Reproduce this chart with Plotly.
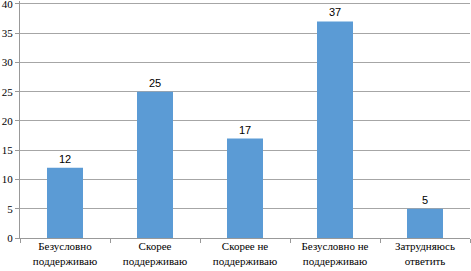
import plotly.graph_objects as go

categories = ["Безусловно<br>поддерживаю", "Скорее<br>поддерживаю", "Скорее не<br>поддерживаю",
              "Безусловно не<br>поддерживаю", "Затрудняюсь<br>ответить"]
values = [12, 25, 17, 37, 5]
y_ticks = [0, 5, 10, 15, 20, 25, 30, 35, 40]

SERIF = "Liberation Serif, Times New Roman, serif"

fig = go.Figure()
fig.add_trace(go.Bar(
    x=categories, y=values,
    marker=dict(color="#5B9BD5", line=dict(width=0)),
    text=[str(v) for v in values], textposition="outside",
    textfont=dict(family="Liberation Sans, Arial, sans-serif", size=11, color="#000000"),
    cliponaxis=False,
))
fig.update_layout(
    width=471, height=271,
    margin=dict(l=20, r=1, t=1, b=33, autoexpand=False),
    paper_bgcolor="white", plot_bgcolor="white",
    bargap=0.6, showlegend=False,
    font=dict(family=SERIF, size=11, color="#000000"),
)
fig.update_xaxes(
    automargin=False,
    showline=True, linecolor="#999999", linewidth=1,
    ticks="outside", tickson="boundaries", ticklen=4, tickcolor="#999999",
    tickfont=dict(family=SERIF, size=11, color="#000000"), showgrid=False,
    ticklabelstandoff=-2,
)
fig.update_yaxes(
    automargin=False, ticklabeloverflow="allow",
    range=[0, 40.5], tickvals=y_ticks, showline=True, linecolor="#999999", linewidth=1,
    showgrid=True, gridcolor="#a6a6a6", gridwidth=1, zeroline=False,
    ticks="outside", ticklen=4, tickcolor="#999999",
    tickfont=dict(family=SERIF, size=11, color="#000000"),
)
fig.write_html("out.html", config={"displayModeBar": False},
               post_script="document.body.style.margin='0';document.body.style.overflow='hidden';")
